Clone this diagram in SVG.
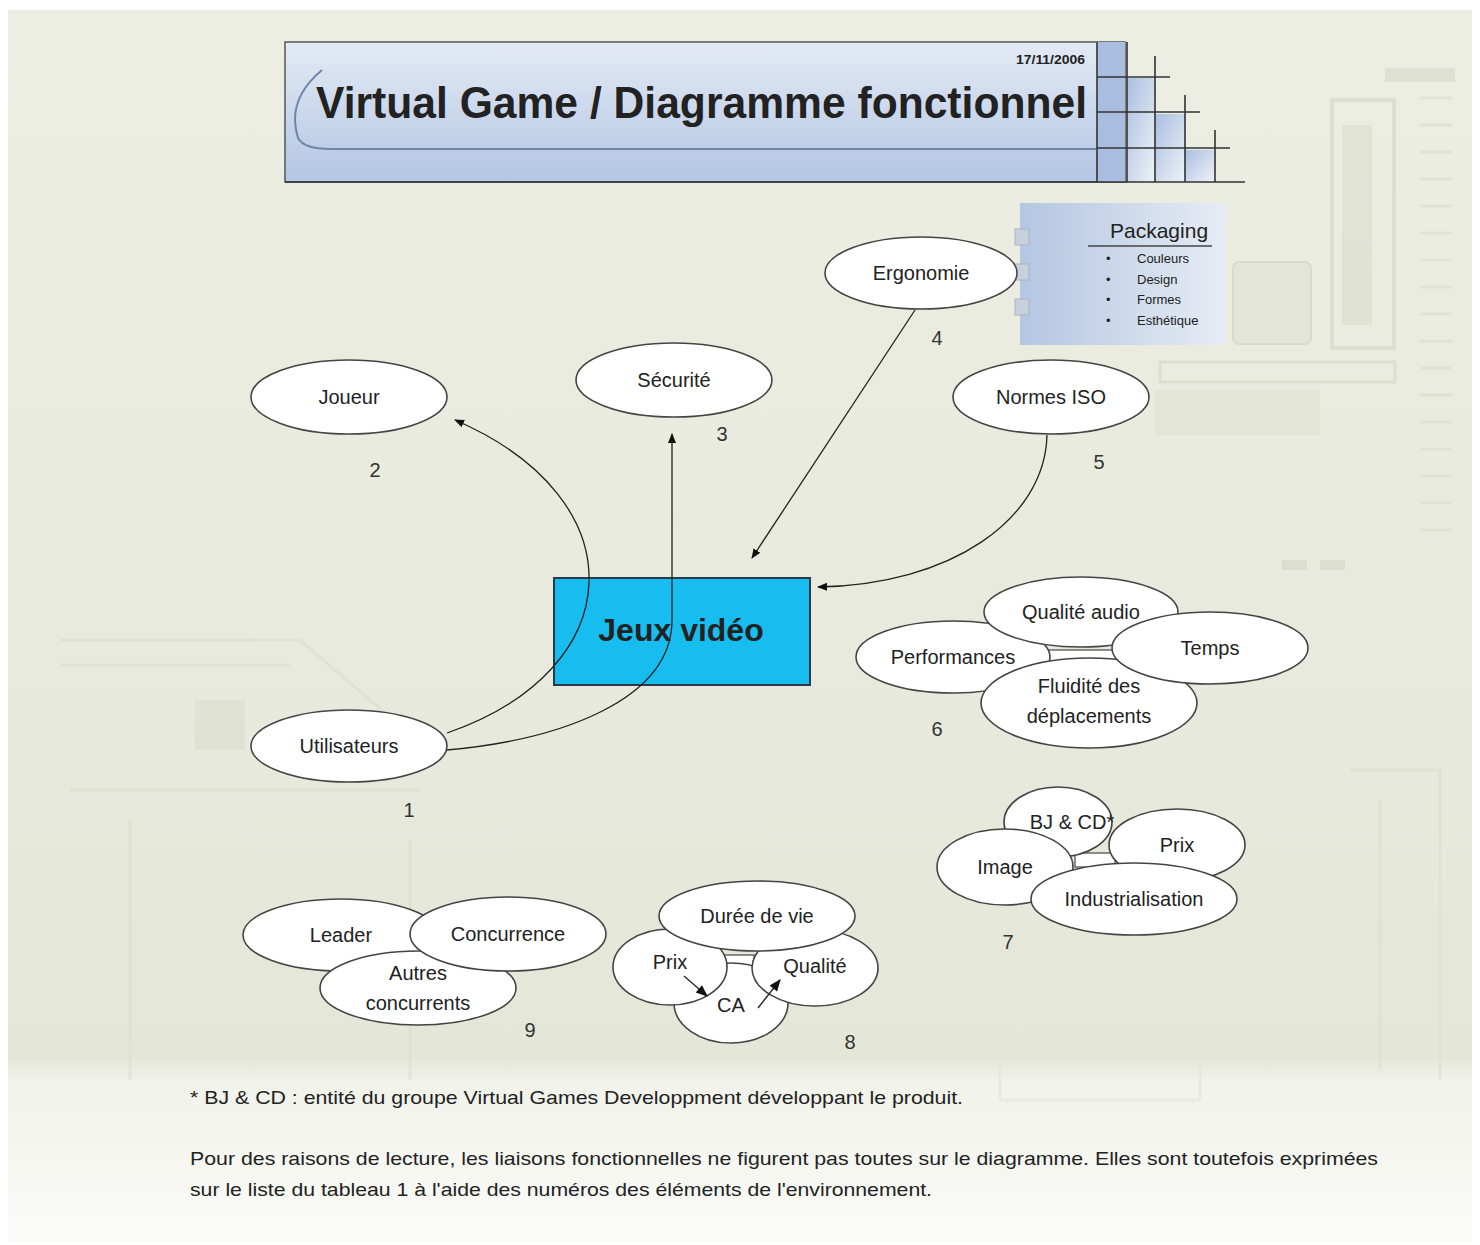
<svg xmlns="http://www.w3.org/2000/svg" width="1480" height="1245" viewBox="0 0 1480 1245">
<defs>
<linearGradient id="bg" x1="0" y1="0" x2="0" y2="1">
<stop offset="0" stop-color="#eceee3"/>
<stop offset="0.85" stop-color="#e4e7d8"/>
<stop offset="0.87" stop-color="#f1f2ea"/>
<stop offset="1" stop-color="#fbfbf8"/>
</linearGradient>
<linearGradient id="title" x1="0" y1="0" x2="0" y2="1">
<stop offset="0" stop-color="#e3eaf4"/>
<stop offset="1" stop-color="#b3c6e4"/>
</linearGradient>
<linearGradient id="cell" x1="0" y1="0" x2="1" y2="1">
<stop offset="0" stop-color="#aabfe0"/>
<stop offset="1" stop-color="#eef2f8"/>
</linearGradient>
<linearGradient id="pack" x1="0" y1="0" x2="1" y2="0">
<stop offset="0" stop-color="#b4c6e2"/>
<stop offset="1" stop-color="#e6ecf4"/>
</linearGradient>
<marker id="arr" viewBox="0 0 10 10" refX="9" refY="5" markerWidth="10" markerHeight="10" markerUnits="userSpaceOnUse" orient="auto">
<path d="M0,1 L10,5 L0,9 z" fill="#111"/>
</marker>
<marker id="arr2" viewBox="0 0 10 10" refX="9" refY="5" markerWidth="14" markerHeight="12" markerUnits="userSpaceOnUse" orient="auto">
<path d="M0,1 L10,5 L0,9 z" fill="#111"/>
</marker>
</defs>
<style>
text{font-family:"Liberation Sans",Arial,sans-serif;fill:#222}
.lbl{font-size:20px;text-anchor:middle}
.num{font-size:20px;text-anchor:middle;fill:#333}
.el{fill:#fff;stroke:#444;stroke-width:1.6}
.conn{fill:none;stroke:#222;stroke-width:1.3}
.deco{fill:none;stroke:#dcdfcf;stroke-width:3}
.note{font-size:19px;fill:#222}
</style>
<rect x="0" y="0" width="1480" height="1245" fill="#fff"/>
<rect x="8" y="10" width="1464" height="1232" fill="url(#bg)"/>
<g id="background-deco" opacity="0.65">
<rect x="1332" y="100" width="62" height="248" fill="none" stroke="#d6d9c8" stroke-width="4"/>
<rect x="1342" y="125" width="30" height="200" fill="#dcdfcf"/>
<rect x="1233" y="262" width="78" height="82" rx="6" fill="#dfe2d3" stroke="#d2d6c3" stroke-width="2"/>
<rect x="1385" y="68" width="70" height="14" fill="#d9dccb"/>
<path class="deco" d="M1420 98 h32 M1420 125 h32 M1420 152 h32 M1420 179 h32 M1420 206 h32 M1420 233 h32 M1420 260 h32 M1420 287 h32 M1420 314 h32 M1420 341 h32 M1420 368 h32 M1420 395 h32 M1420 422 h32 M1420 449 h32 M1420 476 h32 M1420 503 h32 M1420 530 h32"/>
<rect x="1160" y="362" width="235" height="20" fill="none" stroke="#d6d9c8" stroke-width="3"/>
<rect x="1155" y="390" width="165" height="45" fill="#e0e3d4"/>
<rect x="1282" y="560" width="25" height="10" fill="#d6d9c8"/>
<rect x="1320" y="560" width="25" height="10" fill="#d6d9c8"/>
<path class="deco" d="M60 640 H300 L440 760 M60 665 H290 M70 790 H420 M130 820 V1080 M410 840 V1080"/>
<rect x="195" y="700" width="50" height="50" fill="#dcdfd0"/>
<path class="deco" d="M1350 770 H1440 V1080 M1380 800 V1070"/>
<rect x="1000" y="1050" width="200" height="50" fill="none" stroke="#e3e5da" stroke-width="3"/>
</g>
<g id="title">
<rect x="285" y="42" width="840" height="140" fill="url(#title)" stroke="#555" stroke-width="1.5"/>
<rect x="1097" y="42" width="28" height="140" fill="#a8bde0"/>
<rect x="1127" y="78" width="28" height="104" fill="url(#cell)"/>
<rect x="1155" y="114" width="30" height="68" fill="url(#cell)"/>
<rect x="1185" y="150" width="30" height="32" fill="url(#cell)"/>
<path d="M322 70 Q286 100 298 138 Q304 149 330 149 L1097 149" fill="none" stroke="#6f86a8" stroke-width="2"/>
<g stroke="#333" stroke-width="1.6" fill="none">
<path d="M1097 42 V182 M1127 42 V182 M1155 56 V182 M1185 95 V182 M1215 130 V182"/>
<path d="M1097 77 H1170 M1097 112 H1200 M1097 148 H1230 M285 182 H1245"/>
</g>
<text x="316" y="118" font-size="45" font-weight="bold" textLength="771" lengthAdjust="spacingAndGlyphs" fill="#111">Virtual Game / Diagramme fonctionnel</text>
<text x="1016" y="64" font-size="12" font-weight="bold" textLength="69" lengthAdjust="spacingAndGlyphs" fill="#333">17/11/2006</text>
</g>
<g id="packaging">
<rect x="1020" y="203" width="205" height="142" fill="url(#pack)"/>
<rect x="1015" y="229" width="14" height="16" fill="#c7d0dc" stroke="#a9b4c3"/>
<rect x="1015" y="264" width="14" height="16" fill="#c7d0dc" stroke="#a9b4c3"/>
<rect x="1015" y="299" width="14" height="16" fill="#c7d0dc" stroke="#a9b4c3"/>
<text x="1110" y="238" font-size="21" fill="#333">Packaging</text>
<line x1="1088" y1="246" x2="1212" y2="246" stroke="#444" stroke-width="1.5"/>
<g font-size="13" fill="#333">
<text x="1106" y="263">•</text><text x="1137" y="263">Couleurs</text>
<text x="1106" y="284">•</text><text x="1137" y="284">Design</text>
<text x="1106" y="304">•</text><text x="1137" y="304">Formes</text>
<text x="1106" y="325">•</text><text x="1137" y="325">Esthétique</text>
</g>
</g>
<g id="jeux-video">
<rect x="554" y="578" width="256" height="107" fill="#17bdef" stroke="#2a3a4a" stroke-width="2"/>
<text x="681" y="641" font-size="32" font-weight="bold" text-anchor="middle" fill="#0b1a30">Jeux vidéo</text>
</g>
<g id="connectors">
<path class="conn" d="M447 733 C630 670 640 500 455 420" marker-end="url(#arr)"/>
<path class="conn" d="M447 750 C560 740 672 700 672 620 L672 434" marker-end="url(#arr)"/>
<path class="conn" d="M915 310 L752 558" marker-end="url(#arr)"/>
<path class="conn" d="M1047 435 C1045 520 950 585 818 587" marker-end="url(#arr)"/>
</g>
<g id="ergonomie"><ellipse class="el" cx="921" cy="273" rx="96" ry="36"/><text class="lbl" x="921" y="280">Ergonomie</text><text class="num" x="937" y="345">4</text></g>
<g id="joueur"><ellipse class="el" cx="349" cy="397" rx="98" ry="37"/><text class="lbl" x="349" y="404">Joueur</text><text class="num" x="375" y="477">2</text></g>
<g id="securite"><ellipse class="el" cx="674" cy="380" rx="98" ry="37"/><text class="lbl" x="674" y="387">Sécurité</text><text class="num" x="722" y="441">3</text></g>
<g id="normes-iso"><ellipse class="el" cx="1051" cy="397" rx="98" ry="37"/><text class="lbl" x="1051" y="404">Normes ISO</text><text class="num" x="1099" y="469">5</text></g>
<g id="utilisateurs"><ellipse class="el" cx="349" cy="746" rx="98" ry="36"/><text class="lbl" x="349" y="753">Utilisateurs</text><text class="num" x="409" y="817">1</text></g>
<g id="groupe-6">
<rect x="1040" y="650" width="80" height="14" fill="#fff" stroke="#555" stroke-width="1.3"/>
<ellipse class="el" cx="953" cy="657" rx="97" ry="36"/>
<ellipse class="el" cx="1081" cy="612" rx="97" ry="35"/>
<ellipse class="el" cx="1089" cy="703" rx="108" ry="45"/>
<ellipse class="el" cx="1210" cy="648" rx="98" ry="36"/>
<text class="lbl" x="1081" y="619">Qualité audio</text>
<text class="lbl" x="953" y="664">Performances</text>
<text class="lbl" x="1210" y="655">Temps</text>
<text class="lbl" x="1089" y="693">Fluidité des</text>
<text class="lbl" x="1089" y="723">déplacements</text>
<text class="num" x="937" y="736">6</text>
</g>
<g id="groupe-7">
<rect x="1075" y="853" width="40" height="14" fill="#fff" stroke="#555" stroke-width="1.3"/>
<ellipse class="el" cx="1058" cy="822" rx="54" ry="35"/>
<ellipse class="el" cx="1177" cy="845" rx="68" ry="36"/>
<ellipse class="el" cx="1005" cy="867" rx="68" ry="38"/>
<ellipse class="el" cx="1134" cy="899" rx="103" ry="36"/>
<text class="lbl" x="1072" y="829">BJ &amp; CD*</text>
<text class="lbl" x="1177" y="852">Prix</text>
<text class="lbl" x="1005" y="874">Image</text>
<text class="lbl" x="1134" y="906">Industrialisation</text>
<text class="num" x="1008" y="949">7</text>
</g>
<g id="groupe-9">
<ellipse class="el" cx="341" cy="935" rx="98" ry="36"/>
<ellipse class="el" cx="418" cy="988" rx="98" ry="37"/>
<ellipse class="el" cx="508" cy="934" rx="98" ry="37"/>
<text class="lbl" x="341" y="942">Leader</text>
<text class="lbl" x="508" y="941">Concurrence</text>
<text class="lbl" x="418" y="980">Autres</text>
<text class="lbl" x="418" y="1010">concurrents</text>
<text class="num" x="530" y="1037">9</text>
</g>
<g id="groupe-8">
<rect x="724" y="955" width="30" height="20" fill="#fff" stroke="#555" stroke-width="1.3"/>
<ellipse class="el" cx="731" cy="1003" rx="57" ry="40"/>
<ellipse class="el" cx="670" cy="967" rx="57" ry="38"/>
<ellipse class="el" cx="815" cy="968" rx="63" ry="38"/>
<ellipse class="el" cx="757" cy="916" rx="98" ry="35"/>
<text class="lbl" x="757" y="923">Durée de vie</text>
<text class="lbl" x="670" y="969">Prix</text>
<text class="lbl" x="815" y="973">Qualité</text>
<text class="lbl" x="731" y="1012">CA</text>
<path class="conn" d="M684 976 L707 996" stroke-width="2" marker-end="url(#arr2)"/>
<path class="conn" d="M758 1008 L780 980" stroke-width="2" marker-end="url(#arr2)"/>
<text class="num" x="850" y="1049">8</text>
</g>
<g id="notes">
<text class="note" x="190" y="1104" textLength="773" lengthAdjust="spacingAndGlyphs">* BJ &amp; CD : entité du groupe Virtual Games Developpment développant le produit.</text>
<text class="note" x="190" y="1165" textLength="1188" lengthAdjust="spacingAndGlyphs">Pour des raisons de lecture, les liaisons fonctionnelles ne figurent pas toutes sur le diagramme. Elles sont toutefois exprimées</text>
<text class="note" x="190" y="1196" textLength="742" lengthAdjust="spacingAndGlyphs">sur le liste du tableau 1 à l'aide des numéros des éléments de l'environnement.</text>
</g>
</svg>
